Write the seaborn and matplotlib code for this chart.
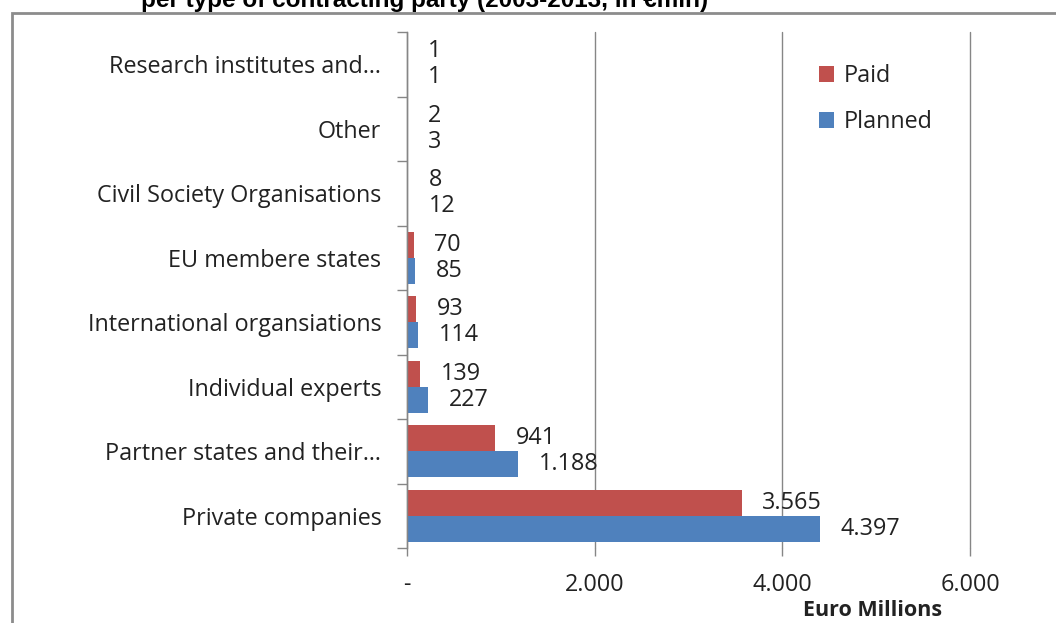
import matplotlib
matplotlib.use("Agg")
import matplotlib.pyplot as plt
import seaborn as sns
import pandas as pd
import numpy as np
from matplotlib.patches import Rectangle
from matplotlib.ticker import FixedLocator

categories = [
    "Research institutes and\u2026",
    "Other",
    "Civil Society Organisations",
    "EU membere states",
    "International organsiations",
    "Individual experts",
    "Partner states and their\u2026",
    "Private companies",
]
paid = [1, 2, 8, 70, 93, 139, 941, 3565]
planned = [1, 3, 12, 85, 114, 227, 1188, 4397]
series = ["Paid", "Planned"]
xticks = [0, 2000, 4000, 6000]
xticklabels = ["-", "2.000", "4.000", "6.000"]
title = "per type of contracting party (2003-2013, in \u20acmln)"
xlabel = "Euro Millions"

df = pd.DataFrame({
    "Type": categories * 2,
    "Series": ["Paid"] * len(paid) + ["Planned"] * len(planned),
    "Value": paid + planned,
})

sns.set_theme(style="white")
plt.rcParams["font.family"] = ["Open Sans", "DejaVu Sans"]

W, H = 1056, 623
FS = 16.8
fig = plt.figure(figsize=(W / 100, H / 100), dpi=100)
ax = fig.add_axes([407 / W, 1 - 548 / H, (970 - 407) / W, (548 - 32) / H])

sns.barplot(data=df, y="Type", x="Value", hue="Series", order=categories,
            hue_order=series, palette=["#C0504D", "#4F81BD"], orient="h",
            width=0.8, ax=ax, saturation=1, linewidth=0, errorbar=None)

ax.set_xlim(0, 6000)
ax.set_ylim(7.5, -0.5)

txt = "#222222"
for cont, vals in zip(ax.containers, [paid, planned]):
    ax.bar_label(cont, labels=[f"{v:,}".replace(",", ".") for v in vals],
                 padding=15, fontsize=FS, color=txt)

gc = "#868686"
ax.xaxis.grid(True, color=gc, lw=1)
ax.set_axisbelow(True)
for s in ["top", "right", "bottom"]:
    ax.spines[s].set_visible(False)
ax.spines["left"].set_color(gc)
ax.spines["left"].set_linewidth(1)

ax.set_yticks(range(len(categories)))
ax.set_yticklabels(categories, fontsize=FS, color=txt)
ax.tick_params(axis="y", which="major", length=0, pad=18.5, left=False)
ax.yaxis.set_minor_locator(FixedLocator(np.arange(-0.5, len(categories), 1)))
ax.tick_params(axis="y", which="minor", length=7, color=gc, width=1, left=True)

ax.set_xticks(xticks)
ax.set_xticklabels(xticklabels, fontsize=FS, color=txt)
ax.tick_params(axis="x", length=6, color=gc, width=1, pad=12, bottom=True)
ax.set_xlabel("")
ax.set_ylabel("")
for gl in ax.get_xgridlines():
    gl.set_clip_on(False)

ax.legend(loc="upper left", bbox_to_anchor=(798 / W, 1 - 43 / H),
          bbox_transform=fig.transFigure, frameon=False, fontsize=FS,
          handlelength=0.65, handleheight=0.65, handletextpad=0.4,
          labelspacing=0.95, labelcolor=txt)

fig.text(942 / W, 1 - 611 / H, xlabel, ha="right", va="center",
         fontsize=15.5, fontweight="bold", color=txt)
fig.text(141 / W, 1 - 7 / H, title, ha="left", va="baseline",
         fontsize=17.5, fontweight="bold", family="Liberation Sans", color="black")
fig.patches.append(Rectangle((12 / W, -0.1), 1.2, 1 - 13 / H + 0.1,
                             transform=fig.transFigure, fill=False,
                             edgecolor="#8c8c8c", lw=2))

fig.savefig("out.png", dpi=100)
